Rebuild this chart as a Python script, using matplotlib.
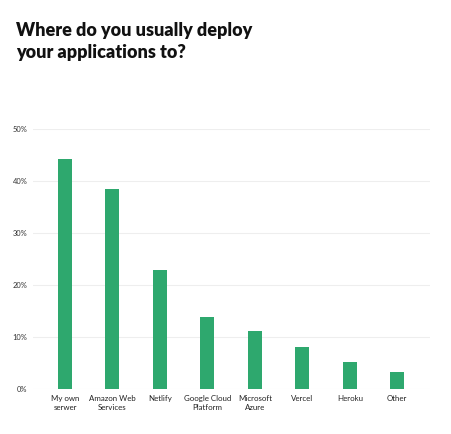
import numpy as np
import matplotlib
matplotlib.use("Agg")
import matplotlib.pyplot as plt

categories = [
    "My own\nserwer",
    "Amazon Web\nServices",
    "Netlify",
    "Google Cloud\nPlatform",
    "Microsoft\nAzure",
    "Vercel",
    "Heroku",
    "Other",
]
shares = [44.2, 38.5, 23.0, 13.9, 11.2, 8.1, 5.3, 3.3]
yticks = [0, 10, 20, 30, 40, 50]

plt.rcParams["font.family"] = ["Lato", "DejaVu Sans"]

fig = plt.figure(figsize=(4.51, 4.34), dpi=100)
ax = fig.add_axes([33 / 451, 1 - 389.3 / 434, 397 / 451, 260 / 434])

x = np.arange(len(categories))
ax.bar(x, shares, width=0.295, color="#2ea86e", zorder=3)

ax.set_xlim(-0.674, 7.69)
ax.set_ylim(0, 50)
ax.set_yticks(yticks)
ax.set_yticklabels([f"{t}%" for t in yticks], fontsize=5.4, color="#333333")
ax.set_xticks(x)
ax.set_xticklabels(categories, fontsize=5.7, color="#222222", linespacing=1.3)
ax.tick_params(axis="both", length=0)
ax.tick_params(axis="x", pad=4)
ax.tick_params(axis="y", pad=4)
ax.grid(axis="y", color="#eeeeee", linewidth=0.8, zorder=0)
for s in ax.spines.values():
    s.set_visible(False)

fig.text(16 / 451, 1 - 36 / 434, "Where do you usually deploy", fontsize=13.0,
         fontweight="heavy", color="#111111", va="baseline")
fig.text(16 / 451, 1 - 58 / 434, "your applications to?", fontsize=13.0,
         fontweight="heavy", color="#111111", va="baseline")

fig.savefig("out.png", dpi=100, facecolor="white")
